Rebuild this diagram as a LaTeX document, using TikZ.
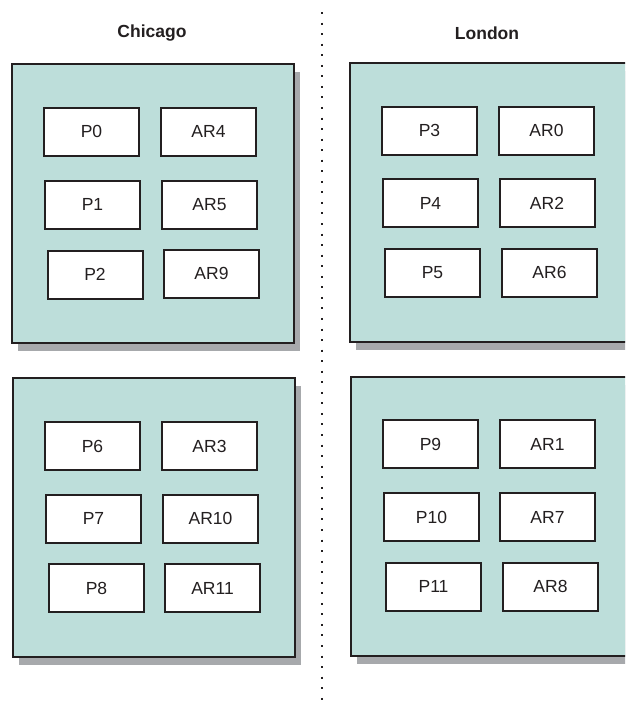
\documentclass[tikz,border=0pt]{standalone}
\usepackage{fontspec}
\setmainfont{Liberation Sans}
\usetikzlibrary{shadows}
\definecolor{boxfill}{RGB}{189,222,218}
\definecolor{shadowgray}{RGB}{167,169,172}
\definecolor{edgecol}{RGB}{35,31,32}
\begin{document}
\begin{tikzpicture}[x=1pt,y=-1pt,
  site/.style={draw=edgecol, line width=2pt, fill=boxfill, minimum width=282pt, minimum height=279pt, inner sep=0pt,
    drop shadow={shadow xshift=6pt, shadow yshift=-8pt, fill=shadowgray, opacity=1}},
  item/.style={draw=edgecol, line width=2pt, fill=white, minimum width=95pt, minimum height=48pt, inner sep=0pt,
    text=edgecol, font=\fontsize{17.5}{20}\selectfont},
  city/.style={text=edgecol, font=\bfseries\fontsize{17.5}{20}\selectfont},
  divider/.style={draw=edgecol, line width=2pt, dash pattern=on 2pt off 8.55pt}]
\useasboundingbox (0,0) rectangle (625,704);
\clip (0,0) rectangle (625,704);

% divider
\coordinate (dtop) at (322,12);
\coordinate (dbot) at (322,706);
\draw[divider] (dtop) -- (dbot);

% city labels
\node[city] (chicago) at (152,33) {Chicago};
\node[city] (london) at (487,33) {London};

% sites
\node[site] (tl) at (153,203) {};
\node[site] (bl) at (154,517.5) {};
\node[site] (tr) at (491,202) {};
\node[site] (br) at (492,516.5) {};

% Chicago top
\node[item] (p0) at (91.5,131.5) {P0};
\node[item] (ar4) at (208.5,131.5) {AR4};
\node[item] (p1) at (92.5,204.5) {P1};
\node[item] (ar5) at (209.5,204.5) {AR5};
\node[item] (p2) at (95,274.5) {P2};
\node[item] (ar9) at (211.5,273.5) {AR9};

% London top
\node[item] (p3) at (429.5,130.5) {P3};
\node[item] (ar0) at (546.5,130.5) {AR0};
\node[item] (p4) at (430.5,203) {P4};
\node[item] (ar2) at (547,203) {AR2};
\node[item] (p5) at (432.5,272.5) {P5};
\node[item] (ar6) at (549.5,272.5) {AR6};

% Chicago bottom
\node[item] (p6) at (92.5,446) {P6};
\node[item] (ar3) at (209.5,446) {AR3};
\node[item] (p7) at (93.5,518.5) {P7};
\node[item] (ar10) at (210.5,518.5) {AR10};
\node[item] (p8) at (96.5,588) {P8};
\node[item] (ar11) at (212.5,588) {AR11};

% London bottom
\node[item] (p9) at (430.5,444) {P9};
\node[item] (ar1) at (547.5,444) {AR1};
\node[item] (p10) at (431.5,517) {P10};
\node[item] (ar7) at (547.5,517) {AR7};
\node[item] (p11) at (433.5,586.5) {P11};
\node[item] (ar8) at (550.5,586.5) {AR8};
\end{tikzpicture}
\end{document}
